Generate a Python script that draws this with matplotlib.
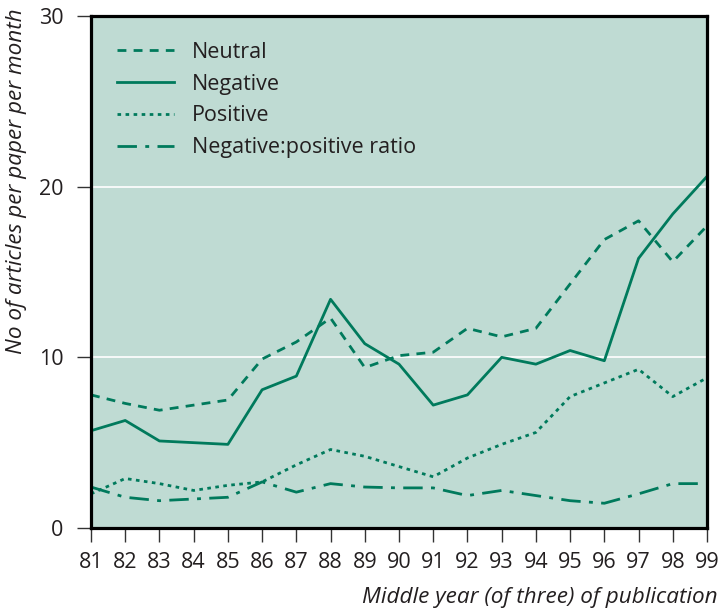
import matplotlib
matplotlib.use("Agg")
import matplotlib.pyplot as plt

years = list(range(81, 100))
year_labels = [str(y) for y in years]
neutral = [7.8, 7.3, 6.9, 7.2, 7.5, 9.9, 10.9, 12.3, 9.4, 10.1, 10.3, 11.7, 11.2, 11.7, 14.3, 16.9, 18.0, 15.6, 17.7]
negative = [5.7, 6.3, 5.1, 5.0, 4.9, 8.1, 8.9, 13.4, 10.8, 9.6, 7.2, 7.8, 10.0, 9.6, 10.4, 9.8, 15.8, 18.4, 20.6]
positive = [2.0, 2.9, 2.6, 2.2, 2.5, 2.7, 3.7, 4.6, 4.2, 3.6, 3.0, 4.1, 4.9, 5.6, 7.7, 8.5, 9.3, 7.7, 8.8]
ratio = [2.4, 1.8, 1.6, 1.7, 1.8, 2.7, 2.1, 2.6, 2.4, 2.35, 2.35, 1.9, 2.2, 1.9, 1.6, 1.45, 2.0, 2.6, 2.6]

series_names = ["Neutral", "Negative", "Positive", "Negative:positive ratio"]
y_ticks = [0, 10, 20, 30]

plt.rcParams['font.family'] = ['Open Sans', 'DejaVu Sans']

GREEN = "#007a5c"
BG = "#bfdbd3"
TXT = "#231f20"

fig = plt.figure(figsize=(7.21, 6.10), dpi=100)
ax = fig.add_axes([91/721, 82/610, 616/721, 512/610])
ax.set_facecolor(BG)

lw = 2.0
ax.plot(years, neutral, color=GREEN, lw=lw, dashes=(3.2, 2.6), label=series_names[0])
ax.plot(years, negative, color=GREEN, lw=lw, ls='-', label=series_names[1])
ax.plot(years, positive, color=GREEN, lw=lw, dashes=(1.3, 1.6), label=series_names[2])
ax.plot(years, ratio, color=GREEN, lw=lw, dashes=(7, 3, 1.4, 3), label=series_names[3])

ax.set_xlim(81, 99)
ax.set_ylim(0, 30)
ax.set_xticks(years)
ax.set_xticklabels(year_labels)
ax.set_yticks(y_ticks)
ax.set_yticklabels([str(t) for t in y_ticks])
for t in [10, 20]:
    ax.axhline(t, color='white', lw=1.2, zorder=0.5)

for s in ax.spines.values():
    s.set_linewidth(2.3)
    s.set_color('black')

ax.tick_params(axis='both', direction='out', length=10, width=1.0, color='#333333',
               labelsize=15.5, labelcolor=TXT, pad=7)
ax.tick_params(axis='y', pad=10)

leg = ax.legend(loc='upper left', frameon=False, fontsize=15.5, handlelength=2.65,
                handletextpad=0.84, labelspacing=0.5, borderaxespad=0.8,
                bbox_to_anchor=(0.0, 1.0))
for t in leg.get_texts():
    t.set_color(TXT)

fig.text(17/721, 1 - 8/610, "No of articles per paper per month", rotation=90,
         ha='center', va='top', style='italic', fontsize=16.2, color=TXT)
fig.text(718/721, 1 - 597/610, "Middle year (of three) of publication",
         ha='right', va='center', style='italic', fontsize=16.2, color=TXT)

fig.savefig("out.png", dpi=100, facecolor='white')
